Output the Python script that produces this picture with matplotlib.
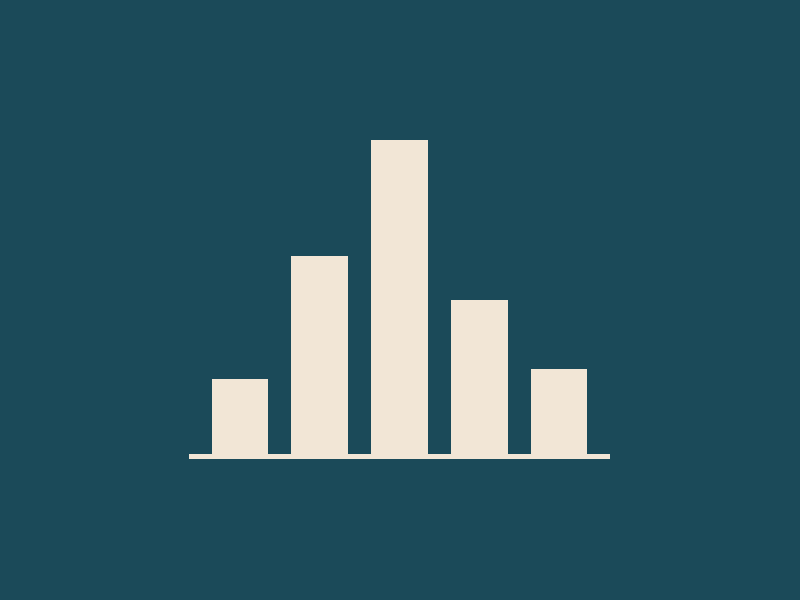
import numpy as np
import matplotlib.pyplot as plt

# bar heights (tallest = 100)
categories = ["A", "B", "C", "D", "E"]
values = [24, 63, 100, 49, 27]

bg = "#1b4a59"
bar_color = "#f2e6d6"

fig = plt.figure(figsize=(8, 6), dpi=100, facecolor=bg)
# axes placed so the baseline runs from x=189 to x=610 px, y 459 -> 140 px
ax = fig.add_axes([189 / 800, (600 - 459) / 600, (610 - 189) / 800, (459 - 140) / 600])
ax.set_facecolor(bg)

x = np.arange(len(categories))
ax.bar(x, values, width=0.71, color=bar_color, linewidth=0, zorder=2)

# baseline strip under the bars
ax.axhspan(-1.6, 0, xmin=0, xmax=1, color=bar_color, linewidth=0, zorder=2)

ax.set_xlim(-0.64, 4.64)
ax.set_ylim(-1.6, 100)
ax.axis("off")

fig.savefig("out.png", dpi=100, facecolor=bg)
